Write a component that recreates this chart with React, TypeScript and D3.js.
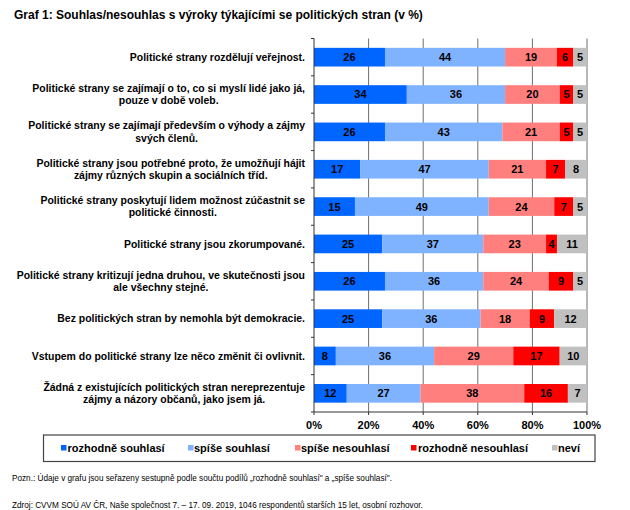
import React from "react";
import * as d3 from "d3";

const title = "Graf 1: Souhlas/nesouhlas s výroky týkajícími se politických stran (v %)";

const categories: string[][] = [
  ["Politické strany rozdělují veřejnost."],
  ["Politické strany se zajímají o to, co si myslí lidé jako já,", "pouze v době voleb."],
  ["Politické strany se zajímají především o výhody a zájmy", "svých členů."],
  ["Politické strany jsou potřebné proto, že umožňují hájit", "zájmy různých skupin a sociálních tříd."],
  ["Politické strany poskytují lidem možnost zúčastnit se", "politické činnosti."],
  ["Politické strany jsou zkorumpované."],
  ["Politické strany kritizují jedna druhou, ve skutečnosti jsou", "ale všechny stejné."],
  ["Bez politických stran by nemohla být demokracie."],
  ["Vstupem do politické strany lze něco změnit či ovlivnit."],
  ["Žádná z existujících politických stran nereprezentuje", "zájmy a názory občanů, jako jsem já."],
];

const seriesNames = ["rozhodně souhlasí", "spíše souhlasí", "spíše nesouhlasí", "rozhodně nesouhlasí", "neví"];

const rozhodneSouhlasi = [26, 34, 26, 17, 15, 25, 26, 25, 8, 12];
const spiseSouhlasi = [44, 36, 43, 47, 49, 37, 36, 36, 36, 27];
const spiseNesouhlasi = [19, 20, 21, 21, 24, 23, 24, 18, 29, 38];
const rozhodneNesouhlasi = [6, 5, 5, 7, 7, 4, 9, 9, 17, 16];
const nevi = [5, 5, 5, 8, 5, 11, 5, 12, 10, 7];

const xTicks = [0, 20, 40, 60, 80, 100];

const note = "Pozn.: Údaje v grafu jsou seřazeny sestupně podle součtu podílů „rozhodně souhlasí\" a „spíše souhlasí\".";
const source = "Zdroj: CVVM SOÚ AV ČR, Naše společnost 7. – 17. 09. 2019, 1046 respondentů starších 15 let, osobní rozhovor.";

const colors = ["#0066FF", "#80B3FF", "#FF7F7F", "#FF0000", "#C0C0C0"];

const FONT = "'Liberation Sans', Arial, sans-serif";

function measure(text: string, font: string): number {
  if (typeof document === "undefined") return text.length * 5;
  const c = document.createElement("canvas").getContext("2d");
  if (!c) return text.length * 5;
  c.font = font;
  return c.measureText(text).width;
}

export default function App() {
  const W = 630, H = 510;
  const left = 314, right = 587, top = 38.5, bottom = 412;
  const x = d3.scaleLinear().domain([0, 100]).range([left, right]);
  const idx = categories.map((_, i) => String(i));
  const y = d3.scaleBand().domain(idx).range([top, bottom]).paddingInner(0.5).paddingOuter(0.25);
  const yOuter = d3.scaleBand().domain(idx).range([top, bottom]);

  const series = [rozhodneSouhlasi, spiseSouhlasi, spiseNesouhlasi, rozhodneNesouhlasi, nevi];
  const table = categories.map((_, i) => {
    const o: any = { key: String(i) };
    seriesNames.forEach((s, j) => (o[s] = series[j][i]));
    return o;
  });
  const stacked = d3.stack<any>().keys(seriesNames)(table);

  const labelSize = 10.45;
  const labelFont = `bold ${labelSize}px ${FONT}`;
  const labelRight = 305;

  const legendItems = [
    { sx: 61, tx: 67.5 },
    { sx: 188, tx: 194 },
    { sx: 295, tx: 301 },
    { sx: 411, tx: 418 },
    { sx: 552, tx: 558 },
  ];

  return (
    <svg width={W} height={H} style={{ position: "absolute", left: 0, top: 0, background: "#fff" }} fontFamily={FONT}>
      <rect x={0} y={0} width={W} height={H} fill="#fff" />
      <text x={14} y={19} fontSize={12} fontWeight="bold" fill="#000">{title}</text>

      {/* gridlines */}
      {xTicks.slice(1).map((t) => (
        <line key={"g" + t} x1={x(t)} x2={x(t)} y1={top} y2={bottom} stroke="#6e6e6e" strokeWidth={1} />
      ))}

      {/* bars */}
      {stacked.map((s, j) =>
        s.map((d, i) => {
          const x0 = x(d[0]);
          const x1 = x(d[1]);
          const by = y(String(i))!;
          const bh = y.bandwidth();
          return (
            <g key={`b${j}-${i}`}>
              <rect x={x0} y={by} width={x1 - x0} height={bh} fill={colors[j]} />
              <text x={(x0 + x1) / 2} y={by + bh / 2} dy="0.36em" textAnchor="middle" fontSize={11} fontWeight="bold" fill="#000">
                {series[j][i]}
              </text>
            </g>
          );
        })
      )}

      {/* axes */}
      <line x1={left} x2={left} y1={top} y2={bottom} stroke="#333" strokeWidth={1} />
      <line x1={left} x2={right} y1={bottom} y2={bottom} stroke="#333" strokeWidth={1} />
      {categories.map((_, i) => (
        <line key={"yt" + i} x1={left - 3} x2={left} y1={yOuter(String(i))!} y2={yOuter(String(i))!} stroke="#333" />
      ))}
      <line x1={left - 3} x2={left} y1={bottom} y2={bottom} stroke="#333" />
      {xTicks.map((t) => (
        <g key={"xt" + t}>
          <line x1={x(t)} x2={x(t)} y1={bottom} y2={bottom + 3} stroke="#333" />
          <text x={x(t)} y={bottom + 13} dy="0.36em" textAnchor="middle" fontSize={11} fontWeight="bold" fill="#000">{t}%</text>
        </g>
      ))}

      {/* category labels */}
      {categories.map((lines, i) => {
        const maxW = Math.max(...lines.map((l) => measure(l, labelFont)));
        const cx = labelRight - maxW / 2;
        const cy = yOuter(String(i))! + yOuter.bandwidth() / 2;
        const lh = 12.3;
        return (
          <text key={"cl" + i} fontSize={labelSize} fontWeight="bold" fill="#000" textAnchor="middle">
            {lines.map((l, k) => (
              <tspan key={k} x={cx} y={cy + (k - (lines.length - 1) / 2) * lh} dy="0.36em">{l}</tspan>
            ))}
          </text>
        );
      })}

      {/* legend */}
      <rect x={43.5} y={435} width={551.5} height={26.5} fill="#fff" stroke="#444" strokeWidth={1.2} />
      {seriesNames.map((s, j) => (
        <g key={"lg" + j}>
          <rect x={legendItems[j].sx} y={445} width={5.5} height={5.5} fill={colors[j]} />
          <text x={legendItems[j].tx} y={448} dy="0.36em" fontSize={11} fontWeight="bold" fill="#000">{s}</text>
        </g>
      ))}

      <text x={12} y={478} dy="0.36em" fontSize={8.2} fill="#000">{note}</text>
      <text x={12} y={505} dy="0.36em" fontSize={8.2} fill="#000">{source}</text>
    </svg>
  );
}
